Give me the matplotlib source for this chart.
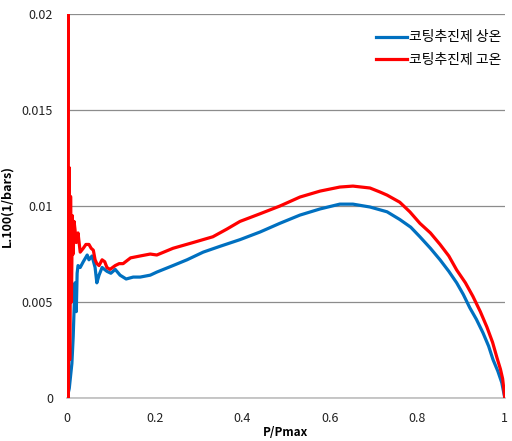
import matplotlib
matplotlib.use("Agg")
from matplotlib import pyplot as plt

plt.rcParams['font.family'] = ['Noto Sans CJK KR', 'DejaVu Sans']

labels = ["코팅추진제 상온", "코팅추진제 고온"]

x_room = [0, 0.005, 0.011, 0.014, 0.016, 0.018, 0.021, 0.023, 0.025, 0.030, 0.037,
          0.046, 0.050, 0.057, 0.064, 0.068, 0.073, 0.080, 0.091, 0.100, 0.110,
          0.121, 0.135, 0.151, 0.167, 0.190, 0.205, 0.242, 0.274, 0.311, 0.349,
          0.395, 0.441, 0.486, 0.532, 0.578, 0.623, 0.653, 0.692, 0.731, 0.760,
          0.785, 0.806, 0.830, 0.852, 0.872, 0.890, 0.905, 0.920, 0.935, 0.950,
          0.963, 0.973, 0.984, 0.993, 1.0]
y_room = [0, 0.0005, 0.0018, 0.0032, 0.0046, 0.0060, 0.0045, 0.0065, 0.0069, 0.0068, 0.0071,
          0.00745, 0.0072, 0.0074, 0.0068, 0.0060, 0.0064, 0.0068, 0.0066, 0.0065, 0.0067,
          0.0064, 0.0062, 0.0063, 0.0063, 0.0064, 0.00656, 0.0069, 0.0072, 0.0076, 0.0079,
          0.00825, 0.00865, 0.0091, 0.00953, 0.00985, 0.0101, 0.0101, 0.00995, 0.0097, 0.0093,
          0.0089, 0.0084, 0.0078, 0.0072, 0.0066, 0.0060, 0.0054, 0.0047, 0.0041, 0.0034,
          0.0027, 0.0020, 0.0014, 0.0008, 0]

x_hot = [0, 0.002, 0.003, 0.005, 0.006, 0.008, 0.010, 0.012, 0.014, 0.016, 0.018,
         0.021, 0.025, 0.030, 0.037, 0.043, 0.050, 0.055, 0.060, 0.064, 0.068, 0.073,
         0.080, 0.086, 0.091, 0.098, 0.110, 0.119, 0.128, 0.145, 0.167, 0.190, 0.205,
         0.242, 0.288, 0.333, 0.365, 0.395, 0.441, 0.486, 0.532, 0.578, 0.623, 0.653,
         0.692, 0.715, 0.731, 0.760, 0.783, 0.806, 0.830, 0.852, 0.872, 0.890, 0.910,
         0.927, 0.944, 0.959, 0.972, 0.982, 0.990, 0.995, 1.0]
y_hot = [0, 0.020, 0.0, 0.012, 0.002, 0.0105, 0.005, 0.0095, 0.0075, 0.0092, 0.0088,
         0.0081, 0.0086, 0.0076, 0.0078, 0.0080, 0.0080, 0.0078, 0.0077, 0.0072, 0.0070, 0.0069,
         0.0072, 0.0071, 0.0068, 0.0067, 0.0069, 0.0070, 0.0070, 0.0073, 0.0074, 0.0075, 0.00745,
         0.0078, 0.0081, 0.0084, 0.0088, 0.0092, 0.0096, 0.0100, 0.01047, 0.01078, 0.01099, 0.01104,
         0.01094, 0.01073, 0.01057, 0.0102, 0.0097, 0.0091, 0.0086, 0.0080, 0.0074, 0.00667, 0.0060,
         0.0053, 0.0045, 0.0037, 0.0029, 0.0021, 0.0015, 0.0010, 0]

x_ticks = [0, 0.2, 0.4, 0.6, 0.8, 1]
x_ticklabels = ["0", "0.2", "0.4", "0.6", "0.8", "1"]
y_ticks = [0, 0.005, 0.01, 0.015, 0.02]
y_ticklabels = ["0", "0.005", "0.01", "0.015", "0.02"]

fig = plt.figure(figsize=(5.12, 4.41), dpi=100)
ax = fig.add_axes([0.131, 0.0975, 0.855, 0.8705])

ax.plot(x_room, y_room, color="#0070C0", linewidth=2.3, label=labels[0], zorder=3)
ax.plot(x_hot, y_hot, color="#FF0000", linewidth=2.3, label=labels[1], zorder=4)

ax.set_xlim(0, 1)
ax.set_ylim(0, 0.02)
ax.set_xticks(x_ticks)
ax.set_xticklabels(x_ticklabels)
ax.set_yticks(y_ticks)
ax.set_yticklabels(y_ticklabels)
ax.tick_params(axis="x", length=0, labelsize=9, colors="#222222", pad=10)
ax.tick_params(axis="y", length=0, labelsize=9, colors="#222222", pad=10)
ax.yaxis.grid(True, color="#8c8c8c", linewidth=0.9)
ax.set_axisbelow(True)
for s in ["top", "right", "left"]:
    ax.spines[s].set_visible(False)
ax.spines["bottom"].set_color("#bdbdbd")
ax.spines["bottom"].set_linewidth(1.2)

ax.set_xlabel("P/Pmax", fontsize=8.5, fontweight="bold", labelpad=1)
ax.set_ylabel("L.100(1/bars)", fontsize=9, fontweight="bold", labelpad=6)

ax.legend(loc="upper right", bbox_to_anchor=(1.02, 0.99), frameon=False,
          fontsize=10, handlelength=2.2, handletextpad=0.15, labelspacing=0.6)

fig.savefig("out.png", dpi=100)
